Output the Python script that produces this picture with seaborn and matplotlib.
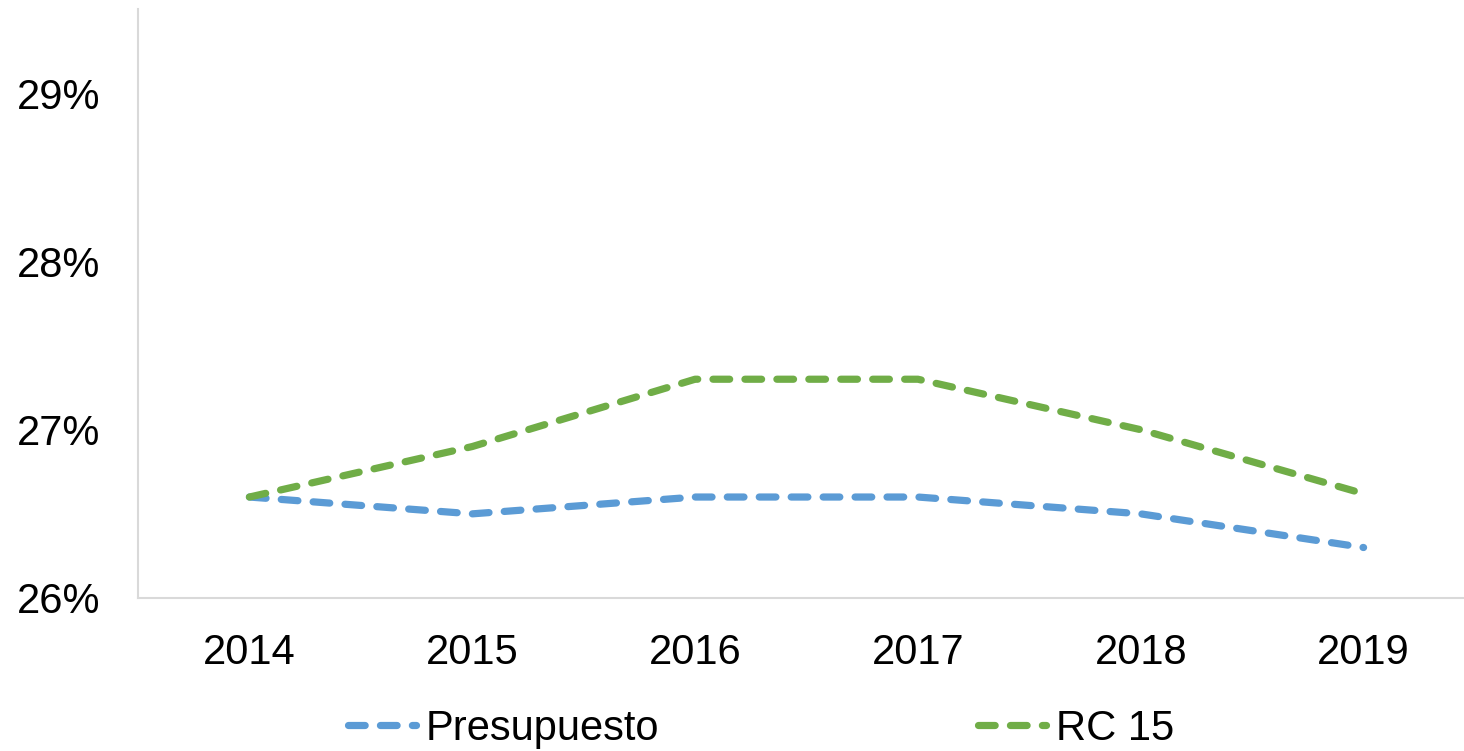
#!/usr/bin/env python
# coding: utf-8

import matplotlib
matplotlib.use("Agg")
import matplotlib.pyplot as plt
import seaborn as sns
import pandas as pd
from matplotlib.ticker import FuncFormatter

years = ["2014", "2015", "2016", "2017", "2018", "2019"]
presupuesto = [26.6, 26.5, 26.6, 26.6, 26.5, 26.3]
rc15 = [26.6, 26.9, 27.3, 27.3, 27.0, 26.62]
series_names = ["Presupuesto", "RC 15"]
y_ticks = [26, 27, 28, 29]

colors = {"Presupuesto": "#5B9BD5", "RC 15": "#70AD47"}

df = pd.DataFrame({
    "year": years * 2,
    "value": presupuesto + rc15,
    "serie": [series_names[0]] * len(years) + [series_names[1]] * len(years),
})

sns.set_theme(style="white")
plt.rcParams["font.family"] = ["Liberation Sans", "DejaVu Sans"]
plt.rcParams["lines.scale_dashes"] = False

fig = plt.figure(figsize=(14.64, 7.51), dpi=100)
ax = fig.add_axes([138 / 1464, 1 - 598 / 751, (1475 - 138) / 1464, (598 - 9) / 751])

sns.lineplot(
    data=df, x="year", y="value", hue="serie", style="serie",
    palette=colors, dashes={s: (12, 11) for s in series_names},
    linewidth=5.2, ax=ax, legend=False, sort=False,
)
for line in ax.get_lines():
    line.set_dash_capstyle("round")

ax.set_xlim(-0.5, len(years) - 0.5)
ax.set_ylim(26, 29.5)
ax.set_yticks(y_ticks)
ax.yaxis.set_major_formatter(FuncFormatter(lambda v, p: f"{v:.0f}%"))
ax.set_xlabel("")
ax.set_ylabel("")
ax.tick_params(axis="both", labelsize=30, length=0, colors="black")
ax.tick_params(axis="y", pad=27)
ax.tick_params(axis="x", pad=25)

for side in ["top", "right"]:
    ax.spines[side].set_visible(False)
for side in ["left", "bottom"]:
    ax.spines[side].set_color("#D9D9D9")
    ax.spines[side].set_linewidth(1.5)

# one legend per series so each entry sits where the reference has it
handles = ax.get_lines()[:2]
anchors = [348 / 1464, 978 / 1464]
for h, name, x0 in zip(handles, series_names, anchors):
    leg = fig.legend(
        [h], [name], loc="center left",
        bbox_to_anchor=(x0, 1 - 729 / 751), frameon=False,
        fontsize=30, handlelength=1.62, handletextpad=0.24,
        borderpad=0, borderaxespad=0,
    )
    for t in leg.get_texts():
        t.set_color("black")

fig.savefig("out.png", dpi=100)
